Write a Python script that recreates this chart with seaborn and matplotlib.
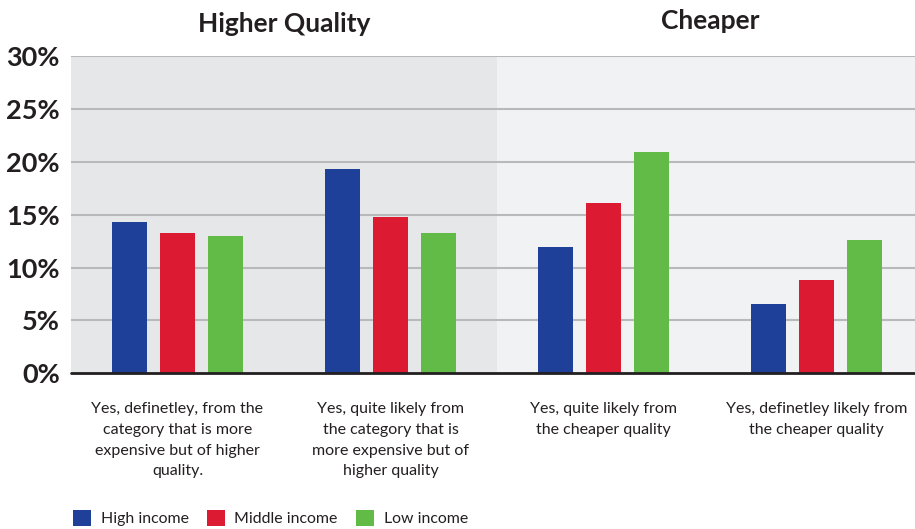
import matplotlib
matplotlib.use("Agg")
import matplotlib.pyplot as plt
from matplotlib.patches import Patch
import seaborn as sns
import pandas as pd

# Survey answers (percent of respondents) by income group
categories = [
    "Yes, definetley, from the\ncategory that is more\nexpensive but of higher\nquality.",
    "Yes, quite likely from\nthe category that is\nmore expensive but of\nhigher quality",
    "Yes, quite likely from\nthe cheaper quality",
    "Yes, definetley likely from\nthe cheaper quality",
]
groups = ["High income", "Middle income", "Low income"]
high_income = [14.3, 19.3, 11.9, 6.6]
middle_income = [13.3, 14.8, 16.1, 8.8]
low_income = [13.0, 13.3, 20.9, 12.6]
section_titles = ["Higher Quality", "Cheaper"]
yticks = [0, 5, 10, 15, 20, 25, 30]

colors = ["#1f4099", "#dc1a32", "#62bb46"]
text_color = "#231f20"

rows = []
for g, vals in zip(groups, [high_income, middle_income, low_income]):
    for c, v in zip(categories, vals):
        rows.append({"category": c, "group": g, "value": v})
df = pd.DataFrame(rows)

sns.set_theme(style="white")
plt.rcParams["font.family"] = ["Lato", "DejaVu Sans"]

fig = plt.figure(figsize=(9.15, 5.29), dpi=100)
ax = fig.add_axes([0.0776, 0.2943, 0.9311, 0.5998])

# Shaded backdrop for the two sections
ax.axvspan(-0.5, 1.5, color="#e6e7e9", zorder=0, lw=0)
ax.axvspan(1.5, 3.5, color="#f1f2f4", zorder=0, lw=0)

sns.barplot(data=df, x="category", y="value", hue="group", order=categories,
            hue_order=groups, palette=colors, width=0.676, gap=0.27,
            saturation=1, linewidth=0, ax=ax, legend=False, zorder=3)

ax.set_xlim(-0.5, 3.5)
ax.set_ylim(0, 30)
ax.set_yticks(yticks)
ax.set_yticklabels([f"{t}%" for t in yticks], fontsize=19.5, fontweight="bold",
                   color=text_color)
for t in yticks[1:]:
    ax.axhline(t, color="#b8b9bb", lw=1.5, zorder=1)
ax.axhline(0, color=text_color, lw=2, zorder=4, clip_on=False)

ax.set_xticks(range(len(categories)))
ax.set_xticklabels(categories, fontsize=11.5, color=text_color, linespacing=1.6,
                   va="top")
ax.tick_params(axis="x", length=0, pad=21)
ax.tick_params(axis="y", length=0, pad=8)
ax.set_xlabel("")
ax.set_ylabel("")
for s in ax.spines.values():
    s.set_visible(False)

# Section headings
ax.text(0.5, 1.0757, section_titles[0], transform=ax.get_xaxis_transform(),
        ha="center", va="baseline", fontsize=19, fontweight="bold", color=text_color)
ax.text(2.5, 1.0836, section_titles[1], transform=ax.get_xaxis_transform(),
        ha="center", va="baseline", fontsize=19, fontweight="bold", color=text_color)

handles = [Patch(facecolor=c, edgecolor="none", label=g) for c, g in zip(colors, groups)]
fig.legend(handles=handles, loc="lower left", bbox_to_anchor=(0.064, -0.022),
           ncol=3, frameon=False, fontsize=11.4, handlelength=1.15,
           handleheight=1.15, handletextpad=0.6, columnspacing=1.15,
           labelcolor=text_color)

fig.savefig("out.png", dpi=100)
